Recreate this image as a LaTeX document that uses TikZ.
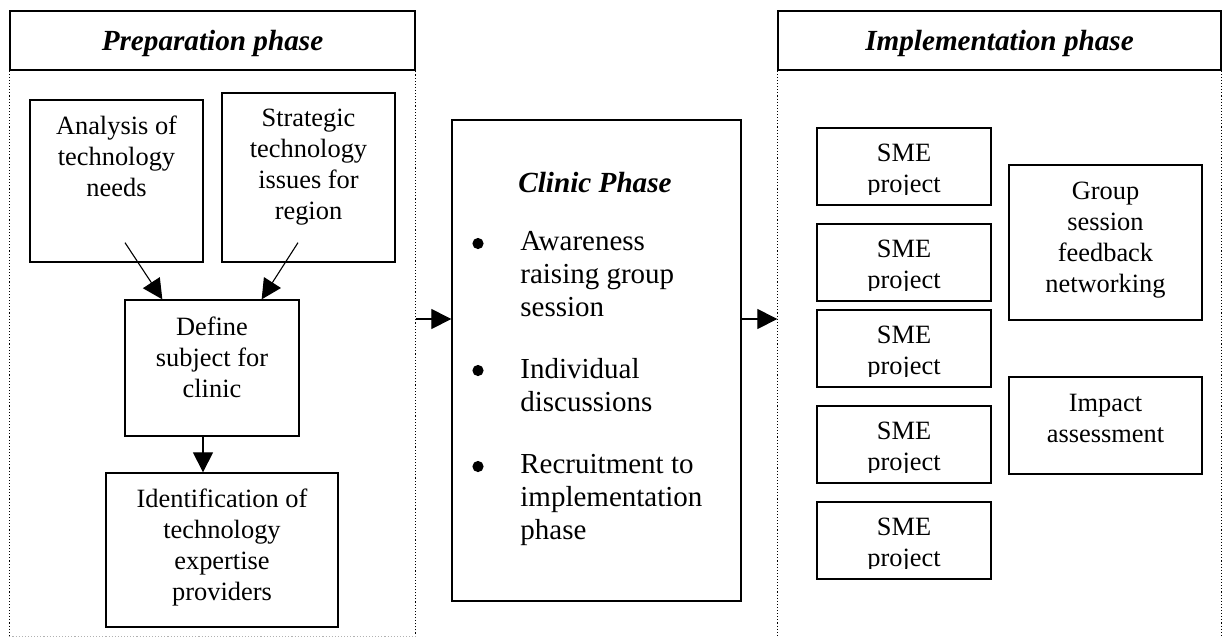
\documentclass[tikz,border=0pt]{standalone}
\usepackage{fontspec}
\setmainfont{Liberation Serif}
\usetikzlibrary{arrows.meta,calc,positioning}

\tikzset{
  box/.style={draw, line width=0.65pt, inner sep=0pt},
  boxtext/.style={inner sep=0pt, align=center, font=\fontsize{13.2}{15.5}\selectfont},
  listtext/.style={inner sep=0pt, align=left, font=\fontsize{14.5}{16.5}\selectfont},
  headtext/.style={font=\fontsize{14.6}{17}\selectfont\bfseries\itshape},
  frame/.style={black, densely dotted, line width=0.55pt},
  flow/.style={-{Triangle[length=10pt, width=10pt]}, line width=0.55pt},
}

\begin{document}
\begin{tikzpicture}[x=0.5pt, y=-0.5pt]
    \useasboundingbox (0,0) rectangle (1223,638);
    % PREPARATION PHASE
    \node[box, headtext, minimum width=202.5pt, minimum height=29.5pt, text height=10.5pt, text depth=1pt] (prephead) at (212.5,40.5) {Preparation phase};
    \draw[frame] ($(prephead.south east)+(0,566)$) -- (prephead.south east);
    \draw[frame] (prephead.south west) -- ++(0,566);
    \draw[frame, gray!60] ($(prephead.south west)+(0,566)$) -- ($(prephead.south east)+(0,566)$);
    \node[box, minimum width=86.5pt, minimum height=81pt] (analysis) at (116.5,181) {};
    \node[boxtext, below=8pt of analysis.north] (analysis-t) {Analysis of\\technology\\needs};
    \node[box, minimum width=86.5pt, minimum height=84.5pt] (strategic) at (308.5,177.5) {};
    \node[boxtext, below=8pt of strategic.north] (strategic-t) {Strategic\\technology\\issues for\\region};
    \node[box, minimum width=87pt, minimum height=68pt] (define) at (212,368) {};
    \node[boxtext, below=8.5pt of define.north] (define-t) {Define\\subject for\\clinic};
    \node[box, minimum width=116pt, minimum height=77pt] (ident) at (222,550) {};
    \node[boxtext, below=8pt of ident.north] (ident-t) {Identification of\\technology\\expertise\\providers};
    \draw[flow] ($(analysis.south)+(8.5,-20)$) -- ($(define.north west)+(38,0)$);
    \draw[flow] ($(strategic.south)+(-10.5,-20)$) -- ($(define.north east)+(-38,0)$);
    \coordinate (stem) at ($(define.south)+(-9,0)$);
    \draw[flow] (stem) -- (stem |- ident.north);
    % CLINIC PHASE
    \node[box, minimum width=144.5pt, minimum height=240.5pt] (clinic) at (596.5,360.5) {};
    \node[headtext, inner sep=0pt, below=26.25pt of clinic.north, xshift=-0.75pt] (clinic-t) {Clinic Phase};
    \foreach \name/\top/\item in {aware/231/{Awareness\\raising group\\session},
                                  indiv/358/{Individual\\discussions},
                                  recruit/454/{Recruitment to\\implementation\\phase}} {
        \node[listtext, anchor=north west] (\name) at (520,\top) {\item};
        \node[circle, fill, inner sep=0pt, minimum size=5.6pt] (\name-dot) at (478,\top+12.5) {};
    }
    \coordinate (flowline) at (0,319);
    \draw[flow] (prephead.east |- flowline) -- (clinic.west |- flowline);
    % IMPLEMENTATION PHASE
    \node[box, headtext, minimum width=221.5pt, minimum height=29.5pt, text height=10.5pt, text depth=1pt] (implhead) at (999.5,40.5) {Implementation phase};
    \draw[frame] (implhead.south west) -- ++(0,568);
    \draw[frame] (implhead.south east) -- ++(0,568);
    \draw[flow] (clinic.east |- flowline) -- (implhead.west |- flowline);
    % SME projects (text cut off at the foot of each box)
    \foreach \i/\y in {1/166.5, 2/262.5, 3/348.5, 4/444.5, 5/540.5} {
        \node[box, minimum width=87pt, minimum height=38.5pt] (sme\i) at (904,\y) {};
        \begin{scope}
            \clip (sme\i.north west) rectangle ($(sme\i.south east)+(0,-11)$);
            \node[boxtext, below=8.25pt of sme\i.north] (sme\i-t) {SME\\project};
        \end{scope}
    }
    \node[box, minimum width=96.5pt, minimum height=77.5pt] (group) at (1105.5,242.5) {};
    \node[boxtext, below=8.5pt of group.north] (group-t) {Group\\session\\feedback\\networking};
    \node[box, minimum width=96.5pt, minimum height=48.5pt] (impact) at (1105.5,425.5) {};
    \node[boxtext, below=8.75pt of impact.north] (impact-t) {Impact\\assessment};
\end{tikzpicture}
\end{document}
